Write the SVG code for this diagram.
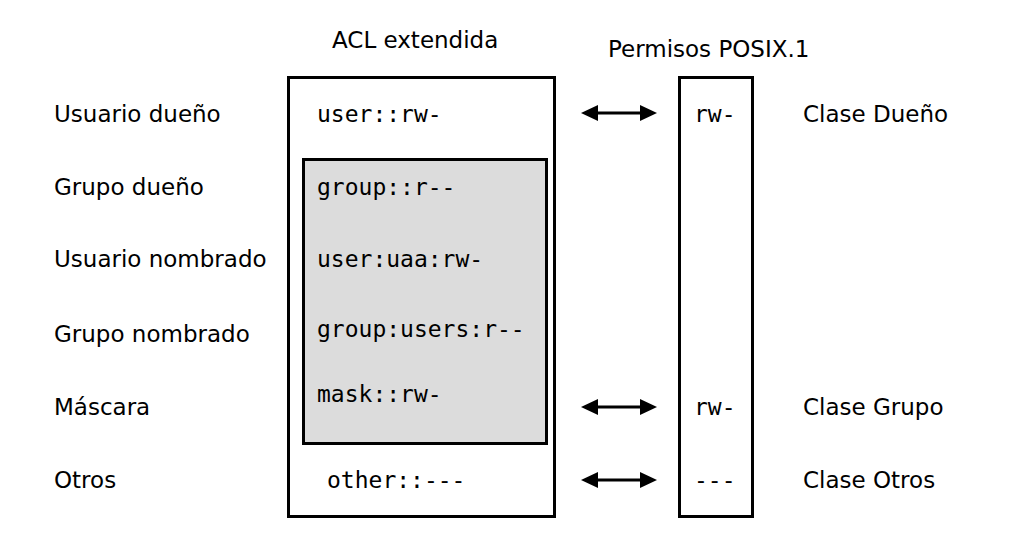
<svg xmlns="http://www.w3.org/2000/svg" width="1035" height="541" viewBox="0 0 1035 541">
<style>
.lbl{font-family:"DejaVu Sans","Noto Sans",sans-serif;font-size:23px;fill:#000}
.mono{font-family:"DejaVu Sans Mono","Liberation Mono",monospace;font-size:23px;fill:#000}
.box{fill:#fff;stroke:#000;stroke-width:3}
.inner{fill:#dcdcdc;stroke:#000;stroke-width:3}
.arr{stroke:#000;stroke-width:3;fill:none;marker-start:url(#ah);marker-end:url(#ah)}
</style>
<defs>
<marker id="ah" viewBox="0 0 17 16" refX="8" refY="8" markerWidth="17" markerHeight="16" markerUnits="userSpaceOnUse" orient="auto-start-reverse">
<path d="M0,0 L17,8 L0,16 Z" fill="#000"/>
</marker>
</defs>
<rect width="1035" height="541" fill="#fff"/>
<g id="titles">
<text class="lbl" x="332" y="48">ACL extendida</text>
<text class="lbl" x="608" y="57">Permisos POSIX.1</text>
</g>
<g id="left-labels">
<text class="lbl" x="54" y="122">Usuario dueño</text>
<text class="lbl" x="54" y="195">Grupo dueño</text>
<text class="lbl" x="54" y="267">Usuario nombrado</text>
<text class="lbl" x="54" y="342">Grupo nombrado</text>
<text class="lbl" x="54" y="415">Máscara</text>
<text class="lbl" x="54" y="488">Otros</text>
</g>
<g id="acl">
<rect class="box" x="288.5" y="77.5" width="266" height="439"/>
<text class="mono" x="317" y="122">user::rw-</text>
<g id="group-class">
<rect class="inner" x="303.5" y="159.5" width="243" height="284"/>
<text class="mono" x="317" y="195">group::r--</text>
<text class="mono" x="317" y="267">user:uaa:rw-</text>
<text class="mono" x="317" y="337">group:users:r--</text>
<text class="mono" x="317" y="402">mask::rw-</text>
</g>
<text class="mono" x="327" y="488">other::---</text>
</g>
<g id="posix">
<rect class="box" x="679.5" y="77.5" width="73" height="439"/>
<text class="mono" x="694" y="122">rw-</text>
<text class="mono" x="694" y="415">rw-</text>
<text class="mono" x="694" y="488">---</text>
</g>
<g id="right-labels">
<text class="lbl" x="803" y="122">Clase Dueño</text>
<text class="lbl" x="803" y="415">Clase Grupo</text>
<text class="lbl" x="803" y="488">Clase Otros</text>
</g>
<g id="connectors">
<line class="arr" x1="590" y1="113" x2="648" y2="113"/>
<line class="arr" x1="590" y1="407" x2="648" y2="407"/>
<line class="arr" x1="590" y1="480" x2="648" y2="480"/>
</g>
</svg>
